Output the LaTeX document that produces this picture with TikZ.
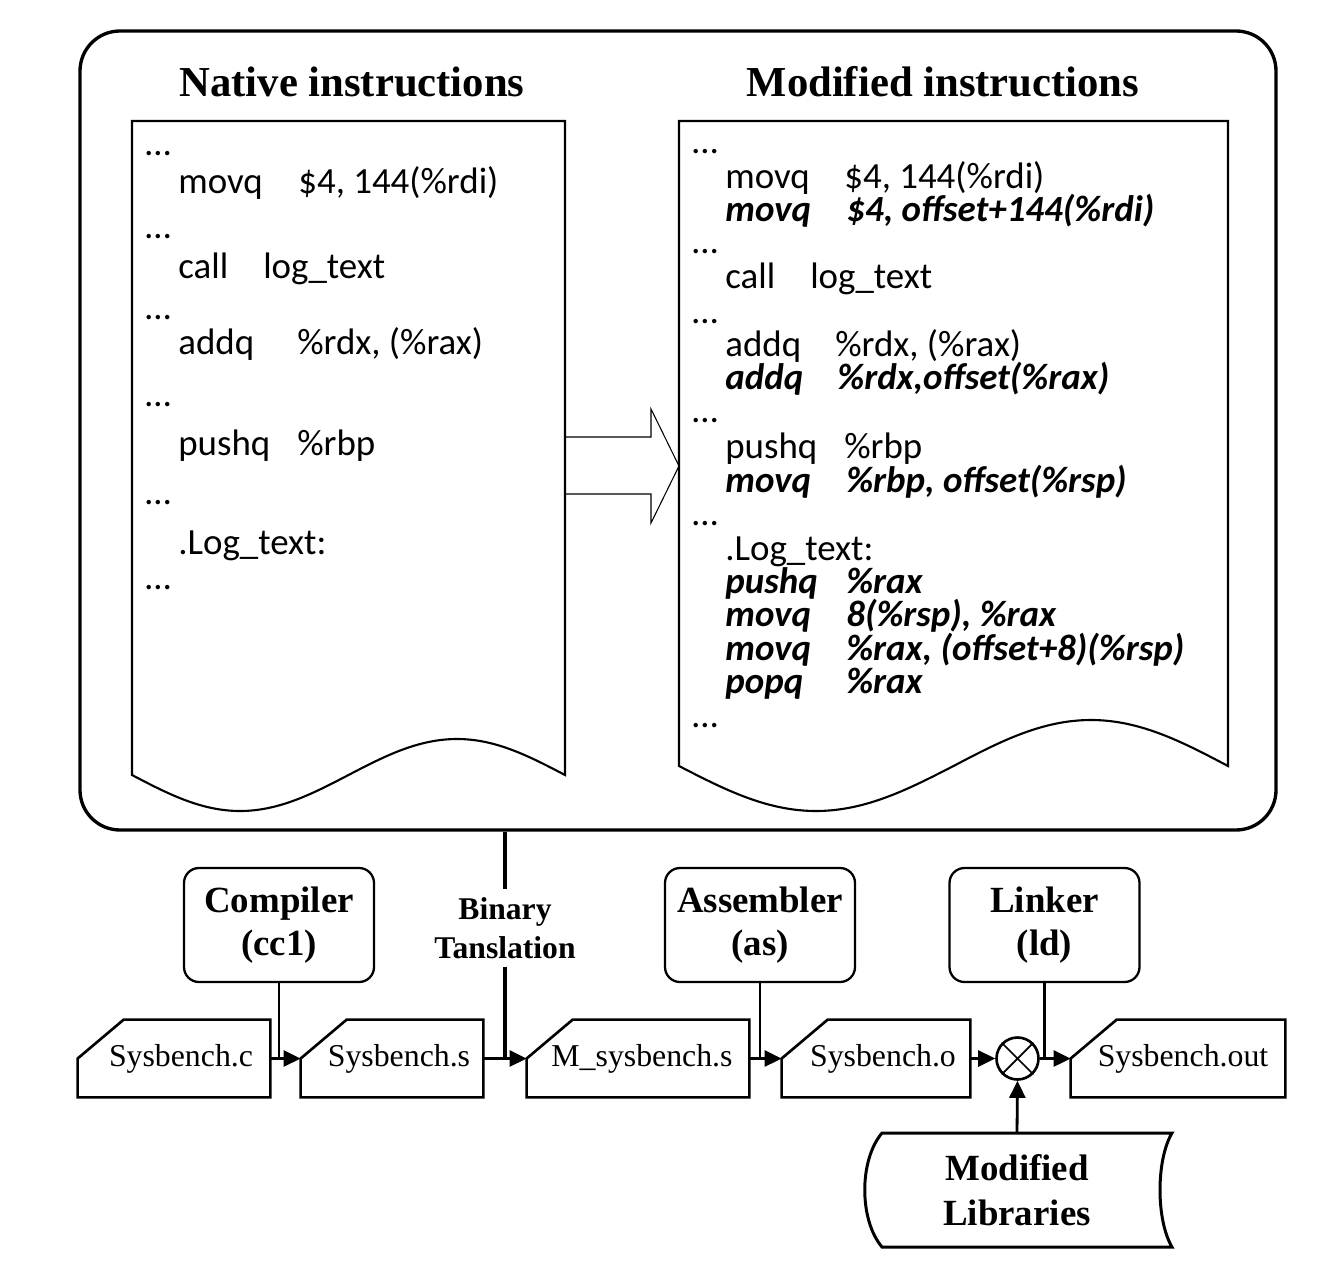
\documentclass[tikz,border=0pt]{standalone}
\usepackage{fontspec}
\setmainfont{Liberation Serif}
\newfontfamily\codefont{Carlito}
\usetikzlibrary{arrows.meta}
\newlength\pxu \setlength\pxu{0.02cm}
\newcommand\cl[3]{\makebox[#1\pxu][l]{#2}#3}
\begin{document}
\begin{tikzpicture}[x=0.02cm,y=-0.02cm,
  bigbox/.style={draw, line width=1.9pt, rounded corners=40\pxu, minimum width=1196\pxu, minimum height=799\pxu, inner sep=0pt},
  docline/.style={draw, line width=1.2pt},
  title/.style={font=\bfseries\fontsize{24.3}{28}\selectfont, inner sep=0pt},
  code/.style={anchor=base west, inner sep=0pt, font=\codefont\fontsize{21}{25}\selectfont},
  bcode/.style={anchor=base west, inner sep=0pt, font=\codefont\fontsize{21}{25}\selectfont\bfseries\itshape},
  tool/.style={draw, line width=1.3pt, rounded corners=15\pxu, minimum width=190\pxu, minimum height=114\pxu, align=center, inner sep=0pt, font=\bfseries\fontsize{21}{24.4}\selectfont},
  card/.style={minimum height=77\pxu, inner sep=0pt, font=\fontsize{18.1}{21}\selectfont},
  cardline/.style={line width=1.5pt, line join=miter},
  flow/.style={line width=1.6pt, -{Triangle[length=0.34cm, width=0.32cm]}},
  toolline/.style={line width=1.2pt},
  btline/.style={line width=1.8pt}
]
\useasboundingbox (0,0) rectangle (1328,1280);

% big frame
\node[bigbox] (big) at (678,430.5) {};

% titles
\node[title] (t1) at (352,82) {Native instructions};
\node[title] (t2) at (943,82) {Modified instructions};

% left document
\draw[docline] (132,775) -- (132,121) -- (565,121) -- (565,775)
  sin (457,739) cos (348.5,775) sin (240,811) cos (132,775) -- cycle;
% right document
\draw[docline] (679,766) -- (679,121) -- (1228,121) -- (1228,766)
  sin (1091,720) cos (953.5,766) sin (816,811) cos (679,766) -- cycle;

% block arrow
\draw[line width=0.6pt] (565,437) -- (651,437) -- (651,409) -- (679,466) -- (651,523) -- (651,494) -- (565,494);

% left code
\node[code] (d1) at (145,156) {…};
\node[code] (n1) at (178,194) {\cl{120}{movq}{\$4, 144(\%rdi)}};
\node[code] (d2) at (145,239) {…};
\node[code] (n2) at (178,279) {\cl{85}{call}{log\_text}};
\node[code] (d3) at (145,319) {…};
\node[code] (n3) at (178,355) {\cl{119}{addq}{\%rdx, (\%rax)}};
\node[code] (d4) at (145,406) {…};
\node[code] (n4) at (178,455) {\cl{119}{pushq}{\%rbp}};
\node[code] (d5) at (145,504) {…};
\node[code] (n5) at (178,554) {.Log\_text:};
\node[code] (d6) at (145,589) {…};

% right code
\node[code] (e1) at (692,154) {…};
\node[code] (m1) at (725,189) {\cl{119}{movq}{\$4, 144(\%rdi)}};
\node[bcode] (m2) at (725,222) {\cl{121}{movq}{\$4, offset+144(\%rdi)}};
\node[code] (e2) at (692,254) {…};
\node[code] (m3) at (725,289) {\cl{85}{call}{log\_text}};
\node[code] (e3) at (692,324) {…};
\node[code] (m4) at (725,357) {\cl{110}{addq}{\%rdx, (\%rax)}};
\node[bcode] (m5) at (725,389) {\cl{112}{addq}{\%rdx,offset(\%rax)}};
\node[code] (e4) at (692,422) {…};
\node[code] (m6) at (725,458) {\cl{119}{pushq}{\%rbp}};
\node[bcode] (m7) at (725,492) {\cl{121}{movq}{\%rbp, offset(\%rsp)}};
\node[code] (e5) at (692,525) {…};
\node[code] (m8) at (725,560) {.Log\_text:};
\node[bcode] (m9) at (725,593) {\cl{121}{pushq}{\%rax}};
\node[bcode] (m10) at (725,626) {\cl{121}{movq}{8(\%rsp), \%rax}};
\node[bcode] (m11) at (725,660) {\cl{121}{movq}{\%rax, (offset+8)(\%rsp)}};
\node[bcode] (m12) at (725,693) {\cl{121}{popq}{\%rax}};
\node[code] (e6) at (692,727) {…};

% tools
\node[tool] (comp) at (279,925) {Compiler\\(cc1)};
\node[tool] (asm) at (760,925) {Assembler\\(as)};
\node[tool] (lnk) at (1044.5,925) {Linker\\(ld)};
\node[align=center, inner ysep=8\pxu, inner xsep=0pt, font=\bfseries\fontsize{18}{22}\selectfont] (bt) at (505,928) {Binary\\Tanslation};

% files
\node[card, minimum width=192\pxu] (sc) at (174,1058.5) {\hspace*{14\pxu}Sysbench.c};
\node[card, minimum width=182\pxu] (ss) at (392,1058.5) {\hspace*{14\pxu}Sysbench.s};
\node[card, minimum width=222\pxu] (ms) at (638,1058.5) {\hspace*{8\pxu}M\_sysbench.s};
\node[card, minimum width=188\pxu] (so) at (876,1058.5) {\hspace*{14\pxu}Sysbench.o};
\node[card, minimum width=214\pxu] (sout) at (1178,1058.5) {\hspace*{10\pxu}Sysbench.out};
\foreach \n in {sc,ss,ms,so,sout}
  \draw[cardline] (\n.south west) -- (\n.west) -- ([xshift=46\pxu]\n.north west) -- (\n.north east) -- (\n.south east) -- cycle;

% combiner
\node[circle, draw, line width=1.5pt, minimum size=42\pxu, inner sep=0pt] (x) at (1017.5,1058.5) {};
\draw[line width=1pt] (x.north west) -- (x.south east) (x.north east) -- (x.south west);

% modified libraries
\node[minimum width=290\pxu, minimum height=114\pxu, inner sep=0pt, align=center, font=\bfseries\fontsize{21}{25.5}\selectfont] (ml) at (1017,1190) {Modified\\Libraries};
\draw[line width=1.7pt] (882,1133) -- (1172,1133) .. controls (1156,1160) and (1156,1220) .. (1172,1247)
  -- (882,1247) .. controls (859,1220) and (859,1160) .. (882,1133) -- cycle;

% connectors
\draw[flow] (sc.east) -- (ss.west);
\draw[flow] (ss.east) -- (ms.west);
\draw[flow] (ms.east) -- (so.west);
\draw[flow] (so.east) -- (x.west);
\draw[flow] (x.east) -- (sout.west);
\draw[flow] (ml.north) -- (x.south);
\draw[toolline] (comp.south) -- (comp.south |- sc.east);
\draw[toolline] (asm.south) -- (asm.south |- ms.east);
\draw[toolline] (lnk.south) -- (lnk.south |- x.east);
\draw[btline] (big.south -| bt.north) -- (bt.north);
\draw[btline] (bt.south) -- (bt.south |- ss.east);
\end{tikzpicture}
\end{document}
